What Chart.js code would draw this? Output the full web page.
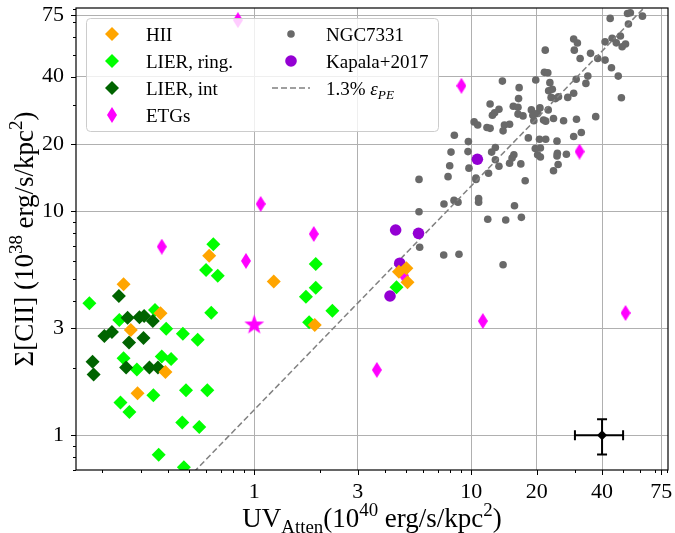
<!DOCTYPE html>
<html>
<head>
<meta charset="utf-8">
<script src="https://cdn.jsdelivr.net/npm/chart.js@4.4.0/dist/chart.umd.min.js"></script>
<style>
  html, body { margin: 0; padding: 0; background: #fff; }
  #wrap { width: 675px; height: 533px; }
</style>
</head>
<body>
<div id="wrap"><canvas id="c" width="675" height="533"></canvas></div>
<script>
// ================================
// data
// ================================

const hiiX = [0.62, 0.25, 0.37, 0.27, 0.39, 0.29, 1.23, 1.90, 4.64, 5.02, 5.08];
const hiiY = [6.34, 4.73, 3.51, 2.95, 1.92, 1.54, 4.86, 3.11, 5.38, 5.57, 4.83];

const ringX = [0.648, 0.600, 0.679, 0.174, 0.239, 0.349, 0.634, 0.393, 0.469, 0.549,
               0.250, 0.288, 0.375, 0.414, 0.485, 0.608, 0.343, 0.242, 0.266, 0.466,
               0.558, 0.363, 0.474, 1.92, 1.92, 1.73, 2.29, 1.79, 4.52];
const ringY = [7.13, 5.47, 5.16, 3.89, 3.27, 3.63, 3.53, 2.99, 2.84, 2.67,
               2.21, 1.97, 2.25, 2.19, 1.59, 1.59, 1.51, 1.40, 1.27, 1.14,
               1.09, 0.818, 0.721, 5.82, 4.56, 4.16, 3.60, 3.20, 4.58];

const intX = [0.238, 0.261, 0.296, 0.311, 0.341, 0.204, 0.221, 0.265, 0.309, 0.180, 0.182, 0.257, 0.329, 0.360];
const intY = [4.19, 3.35, 3.37, 3.41, 3.24, 2.78, 2.89, 2.60, 2.72, 2.13, 1.87, 2.01, 2.01, 2.01];

const etgX = [0.841, 0.375, 0.916, 1.07, 1.88, 9.0, 31.5, 3.67, 11.3, 51.3, 4.90];
const etgY = [71.5, 6.96, 6.01, 10.8, 7.93, 36.4, 18.5, 1.96, 3.24, 3.52, 5.15];
const etgStarX = [1.0];
const etgStarY = [3.11];

const kapX = [10.66, 4.48, 5.71, 4.68, 4.22];
const kapY = [17.1, 8.26, 7.98, 5.87, 4.19];

const ngcX = [43.6, 52.4, 54.0, 61.4, 52.9, 29.6, 30.8, 21.9, 29.8, 35.4,
              31.7, 38.2, 41.3, 44.5, 46.5, 48.6, 49.5, 51.3, 41.3, 44.2,
              47.5, 49.1, 34.4, 33.7, 30.4, 21.7, 22.5, 19.8, 23.0, 22.7,
              23.6, 23.3, 24.4, 25.2, 27.8, 29.6, 13.9, 16.6, 16.5, 12.2,
              13.4, 12.8, 12.5, 15.6, 16.4, 16.4, 17.3, 18.9, 19.2, 20.2,
              20.7, 22.6, 21.5, 22.0, 19.4, 23.9, 26.6, 30.5, 37.4, 10.3,
              10.7, 11.8, 12.2, 14.2, 15.0, 14.0, 8.35, 9.69, 8.06, 9.65,
              12.9, 12.4, 18.3, 20.6, 22.0, 19.7, 20.8, 24.8, 29.6, 32.1,
              20.2, 20.8, 24.9, 24.8, 27.4, 15.7, 15.4, 12.9, 13.4, 15.0,
              16.9, 7.95, 9.75, 25.1, 23.9, 12.0, 10.5, 7.81, 5.74, 10.5,
              10.8, 10.8, 8.32, 8.68, 7.48, 5.74, 11.9, 14.4, 17.0, 15.8,
              17.7, 5.78, 7.46, 8.77, 14.0];
const ngcY = [72.8, 76.6, 77.1, 74.5, 68.7, 58.9, 56.5, 52.5, 52.5, 50.8,
              48.2, 48.2, 57.2, 59.3, 56.6, 60.7, 54.4, 55.9, 47.4, 43.8,
              40.2, 32.2, 40.2, 37.3, 38.9, 41.8, 41.6, 38.6, 37.6, 34.6,
              35.1, 32.3, 31.9, 32.5, 32.3, 33.7, 38.2, 35.7, 31.9, 30.2,
              28.6, 27.6, 26.9, 29.5, 29.2, 27.2, 26.7, 28.4, 26.9, 27.4,
              29.0, 28.4, 25.6, 25.3, 25.4, 26.0, 25.4, 25.8, 26.5, 25.1,
              24.3, 23.7, 23.5, 24.3, 24.5, 22.9, 21.9, 20.5, 18.4, 18.5,
              19.3, 18.4, 21.3, 21.0, 21.0, 19.1, 19.2, 20.6, 21.6, 22.5,
              17.9, 17.5, 18.2, 17.7, 18.0, 17.9, 17.3, 17.0, 15.9, 16.4,
              16.3, 16.0, 15.6, 16.2, 15.2, 14.8, 14.1, 14.3, 13.9, 13.9,
              11.4, 11.0, 11.2, 11.0, 10.8, 9.97, 9.22, 9.15, 9.41, 10.6,
              13.7, 6.92, 6.39, 6.44, 5.78];

// 1.3% photoelectric efficiency line
const epsX = [0.1, 100];
const epsY = [0.13, 130];

// typical error bar
const errX = [40];
const errY = [1];
const errXLo = [30];
const errXHi = [50];
const errYLo = [0.82];
const errYHi = [1.18];

// tick labels
const xMajor = [1, 3, 10, 20, 40, 75];
const xMinor = [0.2, 0.3, 0.4, 0.5, 0.6, 0.7, 0.8, 0.9, 2, 4, 5, 6, 7, 8, 9, 30, 50, 60, 70, 80];
const yMajor = [1, 3, 10, 20, 40, 75];
const yMinor = [0.7, 0.8, 0.9, 2, 4, 5, 6, 7, 8, 9, 30, 50, 60, 70, 80];

// ================================
// helpers
// ================================

const SERIF = '"Liberation Serif", "Times New Roman", "DejaVu Serif", serif';
const pts = (xs, ys) => xs.map((x, i) => ({ x: x, y: ys[i] }));

function thinDiamond(color, w, h) {
  const c = document.createElement('canvas');
  c.width = w; c.height = h;
  const g = c.getContext('2d');
  g.fillStyle = color;
  g.beginPath();
  g.moveTo(w / 2, 0); g.lineTo(w, h / 2); g.lineTo(w / 2, h); g.lineTo(0, h / 2);
  g.closePath();
  g.fill();
  return c;
}

function starImg(color, ro, ri) {
  const s = Math.ceil(ro * 2) + 2;
  const c = document.createElement('canvas');
  c.width = s; c.height = s;
  const g = c.getContext('2d');
  g.fillStyle = color;
  g.beginPath();
  for (let i = 0; i < 10; i++) {
    const r = i % 2 ? ri : ro;
    const a = -Math.PI / 2 + i * Math.PI / 5;
    g.lineTo(s / 2 + r * Math.cos(a), s / 2 + r * Math.sin(a));
  }
  g.closePath();
  g.fill();
  return c;
}

const etgMarker = thinDiamond('#ff00ff', 10, 16);
const starMarker = starImg('#ff00ff', 10.5, 4.2);

function fontFor(m, size) {
  const small = (m === 'sub' || m === 'sup' || m === 'itsub');
  const it = (m === 'it' || m === 'itsub');
  return (it ? 'italic ' : '') + (small ? size * 0.7 : size) + 'px ' + SERIF;
}

// draws text with sub/superscripts; align 'center' or 'left'
function drawRich(ctx, parts, x, y, size, align) {
  let w = 0;
  parts.forEach(p => { ctx.font = fontFor(p[1], size); w += ctx.measureText(p[0]).width; });
  let cx = align === 'center' ? x - w / 2 : x;
  ctx.textAlign = 'left';
  ctx.textBaseline = 'alphabetic';
  parts.forEach(p => {
    ctx.font = fontFor(p[1], size);
    let dy = 0;
    if (p[1] === 'sup') dy = -size * 0.4;
    if (p[1] === 'sub' || p[1] === 'itsub') dy = size * 0.22;
    ctx.fillText(p[0], cx, y + dy);
    cx += ctx.measureText(p[0]).width;
  });
}

function diamond(ctx, x, y, r, color) {
  ctx.fillStyle = color;
  ctx.beginPath();
  ctx.moveTo(x, y - r); ctx.lineTo(x + r, y); ctx.lineTo(x, y + r); ctx.lineTo(x - r, y);
  ctx.closePath();
  ctx.fill();
}

function dot(ctx, x, y, r, color) {
  ctx.fillStyle = color;
  ctx.beginPath();
  ctx.arc(x, y, r, 0, Math.PI * 2);
  ctx.fill();
}

// ================================
// plugins
// ================================

const frameTicks = {
  id: 'frameTicks',
  afterDraw(chart) {
    const { ctx, chartArea: a, scales: { x, y } } = chart;
    ctx.save();
    ctx.strokeStyle = '#000';
    ctx.lineWidth = 1;
    ctx.beginPath();
    x.ticks.forEach(t => {
      const p = Math.round(x.getPixelForValue(t.value)) + 0.5;
      const len = xMajor.includes(t.value) ? 5 : 3;
      ctx.moveTo(p, a.bottom); ctx.lineTo(p, a.bottom + len);
    });
    y.ticks.forEach(t => {
      const p = Math.round(y.getPixelForValue(t.value)) + 0.5;
      const len = yMajor.includes(t.value) ? 5 : 3;
      ctx.moveTo(a.left, p); ctx.lineTo(a.left - len, p);
    });
    ctx.stroke();
    ctx.lineWidth = 1.2;
    ctx.strokeRect(a.left, a.top, a.right - a.left, a.bottom - a.top);
    ctx.restore();
  }
};

const errorBars = {
  id: 'errorBars',
  afterDatasetsDraw(chart) {
    const { ctx, scales: { x, y } } = chart;
    ctx.save();
    ctx.strokeStyle = '#000';
    ctx.lineWidth = 2;
    errX.forEach((v, i) => {
      const px = x.getPixelForValue(v), py = y.getPixelForValue(errY[i]);
      const x0 = x.getPixelForValue(errXLo[i]), x1 = x.getPixelForValue(errXHi[i]);
      const y0 = y.getPixelForValue(errYLo[i]), y1 = y.getPixelForValue(errYHi[i]);
      ctx.beginPath();
      ctx.moveTo(x0, py); ctx.lineTo(x1, py);
      ctx.moveTo(px, y0); ctx.lineTo(px, y1);
      ctx.moveTo(x0, py - 5); ctx.lineTo(x0, py + 5);
      ctx.moveTo(x1, py - 5); ctx.lineTo(x1, py + 5);
      ctx.moveTo(px - 5, y0); ctx.lineTo(px + 5, y0);
      ctx.moveTo(px - 5, y1); ctx.lineTo(px + 5, y1);
      ctx.stroke();
      diamond(ctx, px, py, 5, '#000');
    });
    ctx.restore();
  }
};

const legendBox = {
  id: 'legendBox',
  afterDraw(chart) {
    const ctx = chart.ctx;
    ctx.save();
    ctx.beginPath();
    ctx.roundRect(86.5, 18.5, 352, 113, 4);
    ctx.fillStyle = 'rgba(255,255,255,0.8)';
    ctx.fill();
    ctx.strokeStyle = '#cccccc';
    ctx.lineWidth = 1;
    ctx.stroke();

    const rows = [34, 61, 88, 115];
    const fs = 19;
    ctx.fillStyle = '#000';
    diamond(ctx, 112, rows[0], 7, '#ffa500');
    diamond(ctx, 112, rows[1], 7, '#00ff00');
    diamond(ctx, 112, rows[2], 7, '#006400');
    ctx.drawImage(etgMarker, 112 - 5, rows[3] - 8);
    dot(ctx, 291, rows[0], 3.8, '#696969');
    dot(ctx, 291, rows[1], 5.8, '#9400d3');
    ctx.strokeStyle = '#808080';
    ctx.lineWidth = 1.5;
    ctx.setLineDash([6, 3]);
    ctx.beginPath();
    ctx.moveTo(272, rows[2]); ctx.lineTo(310, rows[2]);
    ctx.stroke();
    ctx.setLineDash([]);

    ctx.fillStyle = '#000';
    const off = 6.5;
    drawRich(ctx, [['HII', '']], 146, rows[0] + off, fs, 'left');
    drawRich(ctx, [['LIER, ring.', '']], 146, rows[1] + off, fs, 'left');
    drawRich(ctx, [['LIER, int', '']], 146, rows[2] + off, fs, 'left');
    drawRich(ctx, [['ETGs', '']], 146, rows[3] + off, fs, 'left');
    drawRich(ctx, [['NGC7331', '']], 326, rows[0] + off, fs, 'left');
    drawRich(ctx, [['Kapala+2017', '']], 326, rows[1] + off, fs, 'left');
    drawRich(ctx, [['1.3% ', ''], ['\u03b5', 'it'], ['PE', 'itsub']], 326, rows[2] + off, fs, 'left');
    ctx.restore();
  }
};

const axisTitles = {
  id: 'axisTitles',
  afterDraw(chart) {
    const { ctx, chartArea: a } = chart;
    ctx.save();
    ctx.fillStyle = '#000';
    drawRich(ctx, [['UV', ''], ['Atten', 'sub'], ['(10', ''], ['40', 'sup'], [' erg/s/kpc', ''], ['2', 'sup'], [')', '']],
      (a.left + a.right) / 2, 527, 27, 'center');
    ctx.translate(33, (a.top + a.bottom) / 2);
    ctx.rotate(-Math.PI / 2);
    drawRich(ctx, [['\u03a3[CII] (10', ''], ['38', 'sup'], [' erg/s/kpc', ''], ['2', 'sup'], [')', '']],
      0, 0, 27, 'center');
    ctx.restore();
  }
};

// ================================
// chart
// ================================

function gridColor(major) {
  return c => (c.tick && major.includes(c.tick.value)) ? '#b0b0b0' : 'rgba(0,0,0,0)';
}

const ctx = document.getElementById('c').getContext('2d');

new Chart(ctx, {
  type: 'scatter',
  data: {
    datasets: [
      { label: 'HII', data: pts(hiiX, hiiY), pointStyle: 'rectRot', pointRadius: 7,
        backgroundColor: '#ffa500', borderWidth: 0, order: 0 },
      { label: 'Kapala+2017', data: pts(kapX, kapY), pointStyle: 'circle', pointRadius: 5.8,
        backgroundColor: '#9400d3', borderWidth: 0, order: 1 },
      { label: 'ETGs', data: pts(etgX, etgY), pointStyle: etgMarker, order: 2 },
      { label: 'ETGs star', data: pts(etgStarX, etgStarY), pointStyle: starMarker, order: 2 },
      { label: 'LIER, int', data: pts(intX, intY), pointStyle: 'rectRot', pointRadius: 7,
        backgroundColor: '#006400', borderWidth: 0, order: 3 },
      { label: 'LIER, ring.', data: pts(ringX, ringY), pointStyle: 'rectRot', pointRadius: 7,
        backgroundColor: '#00ff00', borderWidth: 0, order: 4 },
      { type: 'line', label: '1.3%', data: pts(epsX, epsY), showLine: true, pointRadius: 0,
        borderColor: '#808080', borderWidth: 1.5, borderDash: [6, 3], fill: false, order: 5 },
      { label: 'NGC7331', data: pts(ngcX, ngcY), pointStyle: 'circle', pointRadius: 3.8,
        backgroundColor: '#696969', borderWidth: 0, order: 6 }
    ]
  },
  options: {
    responsive: false,
    animation: false,
    devicePixelRatio: 1,
    events: [],
    layout: { padding: { top: 8, right: 7, left: 0, bottom: 0 } },
    plugins: {
      legend: { display: false },
      tooltip: { enabled: false }
    },
    scales: {
      x: {
        type: 'logarithmic',
        min: 0.151,
        max: 80.5,
        afterBuildTicks: s => { s.ticks = xMinor.concat(xMajor).sort((a, b) => a - b).map(v => ({ value: v })); },
        afterFit: s => { s.height = 63; s.paddingLeft = 0; s.paddingRight = 0; },
        border: { display: false },
        grid: { drawTicks: false, color: gridColor(xMajor), lineWidth: 1 },
        ticks: {
          autoSkip: false, maxRotation: 0, padding: 9, color: '#000',
          font: { family: SERIF, size: 22 },
          callback: v => xMajor.includes(v) ? String(v) : ''
        }
      },
      y: {
        type: 'logarithmic',
        min: 0.70,
        max: 81,
        afterBuildTicks: s => { s.ticks = yMinor.concat(yMajor).sort((a, b) => a - b).map(v => ({ value: v })); },
        afterFit: s => { s.width = 76; s.paddingTop = 0; s.paddingBottom = 0; },
        border: { display: false },
        grid: { drawTicks: false, color: gridColor(yMajor), lineWidth: 1 },
        ticks: {
          autoSkip: false, padding: 12, color: '#000',
          font: { family: SERIF, size: 22 },
          callback: v => yMajor.includes(v) ? String(v) : ''
        }
      }
    }
  },
  plugins: [errorBars, frameTicks, legendBox, axisTitles]
});
</script>
</body>
</html>
